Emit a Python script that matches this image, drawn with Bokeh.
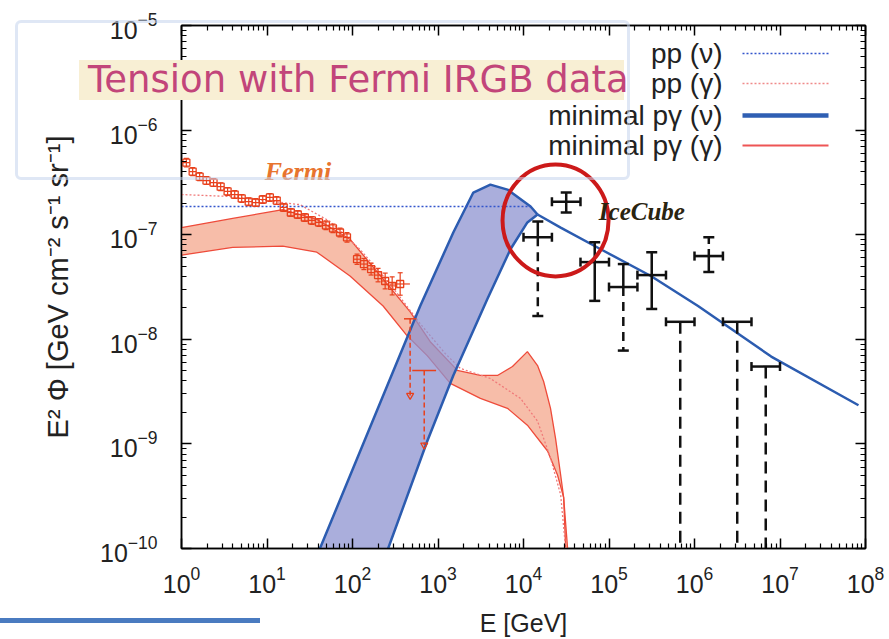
import math
from bokeh.plotting import figure
from bokeh.layouts import column
from bokeh.models import (LogAxis, FixedTicker, Label, BoxAnnotation, Range1d, Div)
from bokeh.embed import file_html
from bokeh.resources import INLINE

# ---------------- data ----------------
x_ticks = [1e0, 1e1, 1e2, 1e3, 1e4, 1e5, 1e6, 1e7, 1e8]
y_ticks = [1e-10, 1e-9, 1e-8, 1e-7, 1e-6, 1e-5]

# Fermi IGRB points
fermi_E = [1.14, 1.35, 1.63, 1.96, 2.37, 2.87, 3.46, 4.19, 5.06, 6.11, 7.38, 8.92, 10.8, 13.0,
           15.7, 19.0, 22.9, 27.7, 33.5, 40.5, 48.9, 59.1, 71.4, 86.2, 113, 136, 165, 199, 241, 291, 361]
fermi_F = [4.88e-7, 4.01e-7, 3.59e-7, 3.29e-7, 3.15e-7, 2.88e-7, 2.59e-7, 2.42e-7, 2.22e-7, 2.07e-7,
           2.03e-7, 2.17e-7, 2.27e-7, 2.12e-7, 1.82e-7, 1.63e-7, 1.56e-7, 1.46e-7, 1.37e-7, 1.31e-7,
           1.23e-7, 1.15e-7, 1.05e-7, 9.44e-8, 5.83e-8, 5.24e-8, 4.69e-8, 4.11e-8, 3.61e-8, 3.24e-8, 3.38e-8]
fermi_yerr = [1.10, 1.09, 1.09, 1.09, 1.09, 1.09, 1.09, 1.09, 1.09, 1.09, 1.09, 1.09, 1.09, 1.09,
              1.09, 1.09, 1.09, 1.09, 1.09, 1.09, 1.10, 1.10, 1.10, 1.11, 1.12, 1.13, 1.14, 1.16,
              1.19, 1.22, 1.28]
fermi_xerr = [1.10, 1.10, 1.10, 1.10, 1.10, 1.10, 1.10, 1.10, 1.10, 1.10, 1.10, 1.10, 1.10, 1.10,
              1.10, 1.10, 1.10, 1.10, 1.10, 1.10, 1.10, 1.10, 1.10, 1.10, 1.10, 1.10, 1.10, 1.10,
              1.10, 1.12, 1.30]
# Fermi upper limits
fermi_ul_E = [472, 690]
fermi_ul_Elo = [400, 500]
fermi_ul_Ehi = [560, 950]
fermi_ul_F = [1.57e-8, 5.03e-9]
fermi_ul_tip = [2.91e-9, 9.75e-10]

# IceCube points
ic_E = [1.47e4, 3.16e4, 6.81e4, 1.47e5, 3.16e5, 1.47e6]
ic_Elo = [1.0e4, 2.15e4, 4.64e4, 1.0e5, 2.15e5, 1.0e6]
ic_Ehi = [2.15e4, 4.64e4, 1.0e5, 2.15e5, 4.64e5, 2.15e6]
ic_F = [9.44e-8, 2.07e-7, 5.47e-8, 3.16e-8, 4.11e-8, 6.24e-8]
ic_Fhi = [1.34e-7, 2.53e-7, 8.47e-8, 5.24e-8, 6.81e-8, 9.44e-8]
ic_Flo = [1.67e-8, 1.63e-7, 2.33e-8, 7.80e-9, 1.95e-8, 4.40e-8]
ic_upper_dashed = [False, False, False, False, False, True]
ic_lower_dashed = [True, False, False, True, False, False]
# IceCube upper limits
icul_E = [6.81e5, 3.16e6, 6.81e6]
icul_Elo = [4.64e5, 2.15e6, 4.64e6]
icul_Ehi = [1.0e6, 4.64e6, 1.0e7]
icul_F = [1.47e-8, 1.47e-8, 5.49e-9]
icul_floor = [1e-11, 1e-11, 1e-11]

# pp (nu)
ppnu_E = [1.0, 1.21e4]
ppnu_F = [1.86e-7, 1.86e-7]
# pp (gamma)
ppg_E = [1.0, 3.66, 24.2, 54.5, 122, 275, 619, 1217, 1823, 4100, 9230, 14600, 20700, 27200, 31100, 33000]
ppg_F = [2.42e-7, 2.32e-7, 1.94e-7, 1.34e-7, 7.26e-8, 3.38e-8, 1.41e-8, 7.29e-9, 5.27e-9, 4.22e-9,
         2.72e-9, 1.65e-9, 7.33e-10, 3.26e-10, 1.0e-10, 5.0e-11]
# minimal p-gamma (gamma) band
gup_E = [1.0, 3.97, 15.3, 38.3, 93.5, 228, 473, 811, 1683, 3130, 4960, 7430, 11100, 14600, 17200,
         20700, 23700, 27200, 29500, 32800, 34000]
gup_F = [1.17e-7, 1.43e-7, 1.74e-7, 1.40e-7, 9.04e-8, 3.77e-8, 1.83e-8, 9.48e-9, 5.04e-9, 4.51e-9,
         4.51e-9, 5.49e-9, 7.62e-9, 5.61e-9, 3.95e-9, 2.19e-9, 1.13e-9, 5.04e-10, 3.06e-10, 1.0e-10, 5.3e-11]
glo_E = [1.0, 3.97, 15.3, 38.3, 93.5, 228, 436, 748, 1393, 3130, 6490, 11100, 19100, 25000, 29500,
         31100, 32000]
glo_F = [6.37e-8, 7.58e-8, 7.76e-8, 6.81e-8, 4.03e-8, 2.08e-8, 1.08e-8, 6.98e-9, 3.79e-9, 2.72e-9,
         2.19e-9, 1.51e-9, 8.55e-10, 5.04e-10, 3.06e-10, 1.0e-10, 5.0e-11]
# minimal p-gamma (nu) band
nup_E = [31.7, 41.6, 619, 1510, 2590, 4100, 6490, 12100, 14600]
nup_F = [5.9e-11, 1.0e-10, 2.08e-8, 1.05e-7, 2.53e-7, 3.01e-7, 2.70e-7, 1.86e-7, 1.56e-7]
nlo_E = [199, 261, 748, 1510, 3780, 7040, 11100, 14600]
nlo_F = [5.9e-11, 1.0e-10, 1.06e-9, 4.51e-9, 2.43e-8, 7.26e-8, 1.31e-7, 1.56e-7]
ntail_E = [14600, 27200, 80000, 3.09e5, 1.10e6, 7.89e6, 8.28e7]
ntail_F = [1.56e-7, 1.17e-7, 7.26e-8, 4.03e-8, 2.08e-8, 6.84e-9, 2.34e-9]

legend_labels = ["pp (\u03bd)", "pp (\u03b3)", "minimal p\u03b3 (\u03bd)", "minimal p\u03b3 (\u03b3)"]
slide_title = "Tension with Fermi IRGB data"

# ---------------- styles ----------------
BLUE = "#2c5cb0"
BAND_BLUE = "#8e93d0"
RED = "#ee4b3a"
BAND_RED = "#f6b6a0"
FERMI = "#e8401c"
SANS = "Liberation Sans"

fig = figure(width=889, height=639, x_axis_type="log", y_axis_type="log",
             x_range=Range1d(1, 1e8), y_range=Range1d(1e-10, 1e-5),
             output_backend="svg", toolbar_location=None,
             min_border_left=181, min_border_right=24, min_border_top=25, min_border_bottom=88)
fig.grid.visible = False
fig.outline_line_color = "black"
fig.outline_line_width = 1.5
fig.background_fill_color = "white"
fig.border_fill_color = "white"

minor_x = [k * 10 ** n for n in range(0, 8) for k in range(2, 10)]
minor_y = [k * 10.0 ** n for n in range(-10, -5) for k in range(2, 10)]


def style_axis(ax, ticks, minors, labels=True):
    ax.ticker = FixedTicker(ticks=ticks, minor_ticks=minors)
    ax.major_tick_in = 10
    ax.major_tick_out = 0
    ax.minor_tick_in = 5
    ax.minor_tick_out = 0
    ax.axis_line_color = "black"
    ax.axis_line_width = 1.5
    ax.major_tick_line_width = 1.5
    ax.minor_tick_line_width = 1.2
    ax.major_label_text_font = SANS
    ax.major_label_text_color = "#222222"
    if labels:
        ax.major_label_text_font_size = "25px"
    else:
        ax.major_label_text_font_size = "2px"
        ax.major_label_text_alpha = 0
        ax.major_label_standoff = 0


style_axis(fig.xaxis[0], x_ticks, minor_x)
style_axis(fig.yaxis[0], y_ticks, minor_y)
fig.xaxis[0].major_label_standoff = 17
fig.yaxis[0].major_label_standoff = 24
fig.xaxis[0].axis_label = "E [GeV]"
fig.yaxis[0].axis_label = "E\u00b2 \u03a6 [GeV cm\u207b\u00b2 s\u207b\u00b9 sr\u207b\u00b9]"
for ax in (fig.xaxis[0], fig.yaxis[0]):
    ax.axis_label_text_font = SANS
    ax.axis_label_text_font_style = "normal"
    ax.axis_label_text_color = "#222222"
fig.xaxis[0].axis_label_text_font_size = "25px"
fig.yaxis[0].axis_label_text_font_size = "29px"
fig.xaxis[0].axis_label_standoff = 13
fig.yaxis[0].axis_label_standoff = 23

top_ax = LogAxis()
right_ax = LogAxis()
style_axis(top_ax, x_ticks, minor_x, labels=False)
style_axis(right_ax, y_ticks, minor_y, labels=False)
fig.add_layout(top_ax, "above")
fig.add_layout(right_ax, "right")

# red band (minimal p-gamma, gamma)
fig.patch(gup_E + glo_E[::-1], gup_F + glo_F[::-1], fill_color=BAND_RED, fill_alpha=0.9, line_alpha=0)
fig.line(gup_E, gup_F, line_color=RED, line_width=1.3)
fig.line(glo_E, glo_F, line_color=RED, line_width=1.3)

# pp gamma dotted
fig.line(ppg_E, ppg_F, line_color="#f07a7a", line_width=1.3, line_dash="2 2")

# blue band (minimal p-gamma, nu)
fig.patch(nup_E + nlo_E[::-1], nup_F + nlo_F[::-1], fill_color=BAND_BLUE, fill_alpha=0.75, line_alpha=0)
fig.line(nup_E, nup_F, line_color=BLUE, line_width=2.5)
fig.line(nlo_E, nlo_F, line_color=BLUE, line_width=2.5)
fig.line(ntail_E, ntail_F, line_color=BLUE, line_width=2.5)

# pp nu dotted
fig.line(ppnu_E, ppnu_F, line_color="#3355cc", line_width=1.3, line_dash="2 2")

# Fermi points
fE_lo = [e / f for e, f in zip(fermi_E, fermi_xerr)]
fE_hi = [e * f for e, f in zip(fermi_E, fermi_xerr)]
fF_lo = [v / f for v, f in zip(fermi_F, fermi_yerr)]
fF_hi = [v * f for v, f in zip(fermi_F, fermi_yerr)]
fig.segment(fE_lo, fermi_F, fE_hi, fermi_F, line_color=FERMI, line_width=1.2)
fig.segment(fermi_E, fF_lo, fermi_E, fF_hi, line_color=FERMI, line_width=1.2)
fig.scatter(fermi_E + fermi_E, fF_lo + fF_hi, marker="dash", size=5, line_color=FERMI, line_width=1.2)
fig.scatter(fermi_E, fermi_F, marker="square", size=7, fill_color=None, line_color=FERMI, line_width=1.3)

# Fermi upper limits (dashed stems with open arrow heads)
fig.segment(fermi_ul_Elo, fermi_ul_F, fermi_ul_Ehi, fermi_ul_F, line_color=FERMI, line_width=1.5)
fig.segment(fermi_ul_E, fermi_ul_F, fermi_ul_E, fermi_ul_tip, line_color=FERMI, line_width=1.5, line_dash="5 3")
fig.scatter(fermi_ul_E, fermi_ul_tip, marker="inverted_triangle", size=7, fill_color=None,
            line_color=FERMI, line_width=1.3)

# IceCube points
K = "#111111"
fig.segment(ic_Elo, ic_F, ic_Ehi, ic_F, line_color=K, line_width=2.5)
fig.scatter(ic_Elo + ic_Ehi, ic_F + ic_F, marker="dash", angle=math.pi / 2, size=9, line_color=K, line_width=2.5)
for i in range(len(ic_E)):
    fig.segment([ic_E[i]], [ic_F[i]], [ic_E[i]], [ic_Fhi[i]], line_color=K, line_width=2.5,
                line_dash="7 5" if ic_upper_dashed[i] else "solid")
    fig.segment([ic_E[i]], [ic_F[i]], [ic_E[i]], [ic_Flo[i]], line_color=K, line_width=2.5,
                line_dash="9 6" if ic_lower_dashed[i] else "solid")
fig.scatter(ic_E + ic_E, ic_Fhi + ic_Flo, marker="dash", size=11, line_color=K, line_width=2.5)

# IceCube upper limits
fig.segment(icul_Elo, icul_F, icul_Ehi, icul_F, line_color=K, line_width=2.5)
fig.scatter(icul_Elo + icul_Ehi, icul_F + icul_F, marker="dash", angle=math.pi / 2, size=9, line_color=K, line_width=2.5)
fig.segment(icul_E, icul_F, icul_E, icul_floor, line_color=K, line_width=2.5, line_dash="12 7")

# red circle highlight
fig.ellipse(x=[2.37e4], y=[1.37e-7], width=106, height=112, width_units="screen", height_units="screen",
            fill_alpha=0, line_color="#cc1a1a", line_width=4)

# in-plot labels
fig.add_layout(Label(x=9.4, y=4.0e-7, text="Fermi", text_font="Liberation Serif", text_font_style="bold italic",
                     text_font_size="26px", text_color="#e8742e", text_baseline="middle"))
fig.add_layout(Label(x=7.6e4, y=1.67e-7, text="IceCube", text_font="Liberation Serif", text_font_style="bold italic",
                     text_font_size="25px", text_color="#2a2410", text_baseline="middle"))

# legend (label on the left, sample on the right)
leg_y = [53, 83, 115, 145]
leg_colors = ["#3355cc", "#f08a8a", "#2f5fb3", "#ee5555"]
leg_widths = [1.6, 1.6, 4.5, 1.8]
leg_dotted = [True, True, False, False]
for lab, yy, col, lw, dotted in zip(legend_labels, leg_y, leg_colors, leg_widths, leg_dotted):
    fig.add_layout(Label(x=722, y=yy, x_units="canvas", y_units="canvas", text=lab, text_font=SANS,
                         text_font_size="28px", text_color="#222222", text_align="right", text_baseline="middle"))
    if dotted:
        for x0 in range(742, 828, 4):
            fig.add_layout(BoxAnnotation(left=x0, right=x0 + 2, top=yy - lw / 2, bottom=yy + lw / 2,
                                         left_units="canvas", right_units="canvas", top_units="canvas",
                                         bottom_units="canvas", fill_color=col, fill_alpha=1, line_alpha=0))
    else:
        fig.add_layout(BoxAnnotation(left=742, right=828, top=yy - lw / 2, bottom=yy + lw / 2,
                                     left_units="canvas", right_units="canvas", top_units="canvas",
                                     bottom_units="canvas", fill_color=col, fill_alpha=1, line_alpha=0))

# slide overlay (outline box, title strip, blue rule) laid over the chart
overlay_html = (
    '<div style="position:absolute;left:15px;top:20px;width:615px;height:160px;box-sizing:border-box;'
    'border:3px solid rgba(196,212,236,0.55);border-radius:6px;"></div>'
    '<div style="position:absolute;left:79px;top:60px;width:545px;height:40px;box-sizing:border-box;'
    'background:#f8efd4;padding-left:9px;white-space:nowrap;font-family:\'DejaVu Sans\';font-size:37px;'
    'line-height:40px;color:#c2457a;">' + slide_title + '</div>'
    '<div style="position:absolute;left:0px;top:618px;width:260px;height:5px;background:#4a7bc0;"></div>'
)
overlay = Div(text=overlay_html, width=889, height=639, margin=0,
              styles={"position": "absolute", "left": "0px", "top": "0px", "z-index": "5",
                      "pointer-events": "none"})

p = column(fig, overlay)

open("out.html", "w").write(file_html(p, INLINE))
